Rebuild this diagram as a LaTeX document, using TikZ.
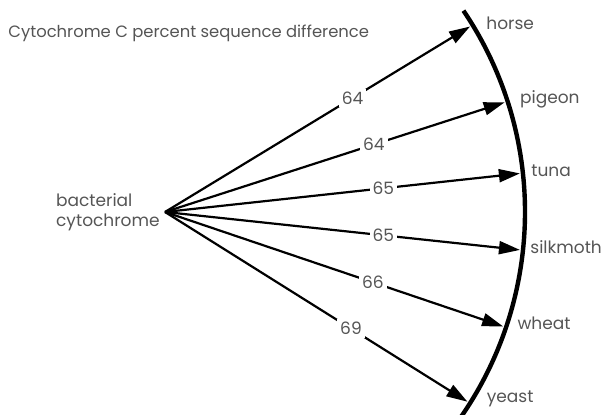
\documentclass[tikz,border=0pt]{standalone}
\usepackage{fontspec}
\setmainfont{Poppins}
\usepackage{tikz}
\usetikzlibrary{arrows.meta,positioning}
\definecolor{inkgrey}{RGB}{85,85,85}
\tikzset{
  base/.style={font=\fontsize{8.5}{10}\selectfont, text=inkgrey, inner sep=0pt},
  title/.style={base, anchor=west, font=\fontsize{8.2}{10}\selectfont},
  source/.style={base, align=left, anchor=east},
  species/.style={base, anchor=west},
  pct/.style={base, pos=0.615, fill=white, inner sep=1.5pt},
  arr/.style={-{Triangle[length=10.5pt,width=6.5pt]}, line width=1.1pt, draw=black},
  rim/.style={line width=2.2pt, draw=black},
}
\begin{document}
\begin{tikzpicture}[x=0.5pt,y=0.5pt]
  \useasboundingbox (0,0) rectangle (608,415);
  \clip (0,0) rectangle (608,415);
  % heading
  \node[title] (head) at (8,382) {Cytochrome C percent sequence difference};
  % source
  \coordinate (src) at (165,203);
  \node[source, left=2.5pt of src] (bact) {bacterial\\cytochrome};
  % outer rim
  \draw[rim] (src) ++(34:360) arc[start angle=34, end angle=-40, radius=360];
  % arrows to each organism
  \foreach \sp/\ang/\val/\dx in {horse/31.3/64/16, pigeon/17.9/64/15, tuna/6.2/65/11,
                                 silkmoth/-6.1/65/10, wheat/-18.7/66/14, yeast/-32.1/69/19}{
    \path (src) ++(\ang:357) coordinate (\sp);
    \draw[arr] (src) -- node[pct] {\val} (\sp);
    \path (\sp) ++(\dx,3) node[species] (\sp-lbl) {\sp};
  }
\end{tikzpicture}
\end{document}
